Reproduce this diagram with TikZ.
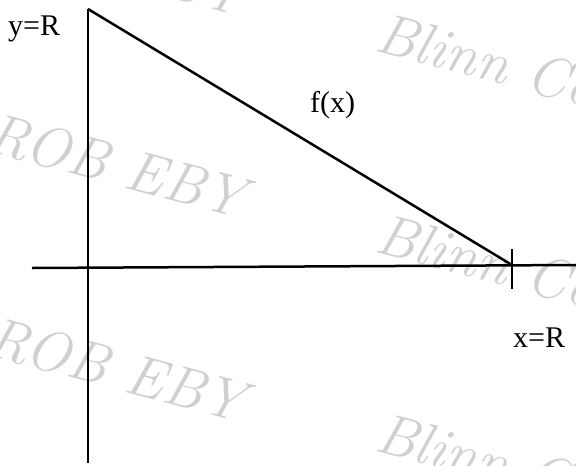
\documentclass[tikz,border=0pt]{standalone}
\usepackage{fontspec}
\newfontfamily\timesfont{Liberation Serif}
\definecolor{wmgray}{RGB}{208,208,208}
\tikzset{
  axisline/.style={line width=2.5pt, black},
  lbl/.style={font=\timesfont\fontsize{30}{34}\selectfont, inner sep=0pt, anchor=base west},
  wmark/.style={font=\fontsize{58}{64}\selectfont\itshape, text=wmgray, inner sep=0pt, anchor=base west, rotate=-15}
}
\begin{document}
\begin{tikzpicture}[x=1pt,y=-1pt]
\useasboundingbox (0,0) rectangle (576,466);
\clip (0,0) rectangle (576,466);
% watermarks
\node[wmark] (w1) at (-16,-52) {ROB EBY};
\node[wmark] (w2) at (-16,150) {ROB EBY};
\node[wmark] (w3) at (-16,354) {ROB EBY};
\node[wmark] (b1) at (373,50) {Blinn Co};
\node[wmark] (b2) at (373,251) {Blinn Co};
\node[wmark] (b3) at (373,450) {Blinn Co};
% coordinates
\coordinate (xl) at (32,268);
\coordinate (xr) at (576,265);
\coordinate (yt) at (88,9);
\coordinate (yb) at (88,463);
\coordinate (tip) at (512,265);
\coordinate (tt) at (512,249);
\coordinate (tb) at (512,289);
% axes and function
\draw[axisline] (xl) -- (xr);
\draw[axisline] (yb) -- (yt);
\draw[axisline, line join=miter] (yt) -- (tip);
\draw[axisline] (tt) -- (tb);
% labels
\node[lbl] (ly) at (8,35) {y=R};
\node[lbl] (lf) at (310,112) {f(x)};
\node[lbl] (lx) at (513,347) {x=R};
\end{tikzpicture}
\end{document}
